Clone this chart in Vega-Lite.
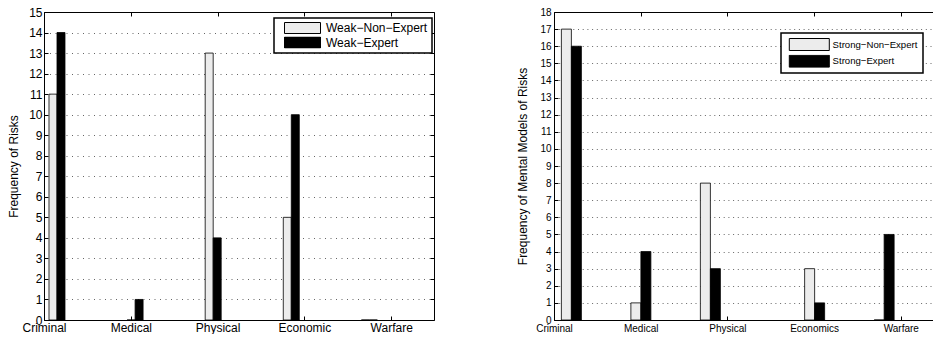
{
  "$schema": "https://vega.github.io/schema/vega-lite/v6.json",
  "padding": {"left": 7, "top": 5, "right": 0, "bottom": 0},
  "bounds": "flush",
  "spacing": 120,
  "resolve": {"scale": {"color": "independent"}, "legend": {"color": "independent"}},
  "datasets": {
    "weak": [
      {"category": "Criminal", "group": "Weak−Non−Expert", "value": 11},
      {"category": "Criminal", "group": "Weak−Expert", "value": 14},
      {"category": "Medical", "group": "Weak−Non−Expert", "value": 0},
      {"category": "Medical", "group": "Weak−Expert", "value": 1},
      {"category": "Physical", "group": "Weak−Non−Expert", "value": 13},
      {"category": "Physical", "group": "Weak−Expert", "value": 4},
      {"category": "Economic", "group": "Weak−Non−Expert", "value": 5},
      {"category": "Economic", "group": "Weak−Expert", "value": 10},
      {"category": "Warfare", "group": "Weak−Non−Expert", "value": 0},
      {"category": "Warfare", "group": "Weak−Expert", "value": 0}
    ],
    "strong": [
      {"category": "Criminal", "group": "Strong−Non−Expert", "value": 17},
      {"category": "Criminal", "group": "Strong−Expert", "value": 16},
      {"category": "Medical", "group": "Strong−Non−Expert", "value": 1},
      {"category": "Medical", "group": "Strong−Expert", "value": 4},
      {"category": "Physical", "group": "Strong−Non−Expert", "value": 8},
      {"category": "Physical", "group": "Strong−Expert", "value": 3},
      {"category": "Economics", "group": "Strong−Non−Expert", "value": 3},
      {"category": "Economics", "group": "Strong−Expert", "value": 1},
      {"category": "Warfare", "group": "Strong−Non−Expert", "value": 0},
      {"category": "Warfare", "group": "Strong−Expert", "value": 5}
    ]
  },
  "hconcat": [
    {
      "data": {"name": "weak"},
      "width": 390,
      "height": 308,
      "resolve": {"scale": {"x": "independent"}, "axis": {"y": "independent"}},
      "layer": [
        {
          "transform": [{"filter": "datum.group === 'Weak−Non−Expert'"}],
          "mark": {"type": "bar", "stroke": "#000", "strokeWidth": 0.8, "width": 8, "xOffset": -4},
          "encoding": {
            "x": {"field": "category", "type": "nominal",
              "scale": {"type": "band", "domain": ["Criminal", "Medical", "Physical", "Economic", "Warfare"], "paddingInner": 0.7951, "paddingOuter": 0.3944, "align": 0.081, "round": false},
              "axis": null},
            "y": {"field": "value", "type": "quantitative",
              "scale": {"domain": [0, 15], "nice": false},
              "axis": {"title": "Frequency of Risks", "values": [0,1,2,3,4,5,6,7,8,9,10,11,12,13,14,15],
                "grid": true, "gridDash": [1, 4.5], "gridColor": "#000", "gridOpacity": 0.6,
                "tickSize": -4, "labelPadding": 6, "domain": false, "labelFontSize": 12,
                "titleFontSize": 12, "titleX": -26.5, "titleBaseline": "alphabetic", "labelOverlap": false}},
            "color": {"field": "group", "type": "nominal",
              "scale": {"domain": ["Weak−Non−Expert", "Weak−Expert"], "range": ["#ececec", "#000000"]},
              "legend": {"title": null, "orient": "none", "legendX": 230, "legendY": 6,
                "symbolType": "M-4.5,-1.375H4.5V1.375H-4.5Z", "symbolSize": 64,
                "symbolStrokeColor": "#000", "symbolStrokeWidth": 1,
                "symbolOffset": 18.5, "labelOffset": 17.5, "rowPadding": 2.5, "clipHeight": 12,
                "labelFontSize": 12, "padding": 4}}
          }
        },
        {
          "transform": [{"filter": "datum.group === 'Weak−Expert'"}],
          "mark": {"type": "bar", "stroke": "#000", "strokeWidth": 0.8, "width": 8, "xOffset": 4},
          "encoding": {
            "x": {"field": "category", "type": "nominal",
              "scale": {"type": "band", "domain": ["Criminal", "Medical", "Physical", "Economic", "Warfare"], "paddingInner": 0.7951, "paddingOuter": 0.3944, "align": 0.081, "round": false},
              "axis": null},
            "y": {"field": "value", "type": "quantitative",
              "scale": {"domain": [0, 15], "nice": false}, "axis": null},
            "color": {"field": "group", "type": "nominal",
              "scale": {"domain": ["Weak−Non−Expert", "Weak−Expert"], "range": ["#ececec", "#000000"]},
              "legend": {"title": null, "orient": "none", "legendX": 230, "legendY": 6,
                "symbolType": "M-4.5,-1.375H4.5V1.375H-4.5Z", "symbolSize": 64,
                "symbolStrokeColor": "#000", "symbolStrokeWidth": 1,
                "symbolOffset": 18.5, "labelOffset": 17.5, "rowPadding": 2.5, "clipHeight": 12,
                "labelFontSize": 12, "padding": 4}}
          }
        },
        {
          "mark": {"type": "point", "opacity": 0},
          "encoding": {
            "x": {"field": "category", "type": "nominal",
              "scale": {"type": "point", "domain": ["Criminal", "Medical", "Physical", "Economic", "Warfare"], "padding": 0.2465, "align": 0},
              "axis": {"orient": "bottom", "title": null, "labelAngle": 0, "tickSize": -4, "labelPadding": 6,
                "domain": false, "labelFontSize": 12, "labelOverlap": false}}
          }
        },
        {
          "mark": {"type": "point", "opacity": 0},
          "encoding": {
            "x": {"field": "category", "type": "nominal",
              "scale": {"type": "point", "domain": ["Criminal", "Medical", "Physical", "Economic", "Warfare"], "padding": 0.2465, "align": 0},
              "axis": {"orient": "top", "title": null, "labels": false, "tickSize": -4, "domain": false}},
            "y": {"field": "value", "type": "quantitative",
              "scale": {"domain": [0, 15], "nice": false},
              "axis": {"orient": "right", "title": null, "labels": false, "grid": false, "tickSize": -4, "domain": false,
                "values": [0,1,2,3,4,5,6,7,8,9,10,11,12,13,14,15]}}
          }
        }
      ]
    },
    {
      "data": {"name": "strong"},
      "width": 380,
      "height": 308,
      "view": {"stroke": null},
      "resolve": {"scale": {"x": "independent"}, "axis": {"y": "independent"}},
      "layer": [
        {
          "transform": [{"filter": "datum.group === 'Strong−Non−Expert'"}],
          "mark": {"type": "bar", "stroke": "#000", "strokeWidth": 0.8, "width": 10, "xOffset": -5},
          "encoding": {
            "x": {"field": "category", "type": "nominal",
              "scale": {"type": "band", "domain": ["Criminal", "_1", "Medical", "_2", "Physical", "_3", "_4", "Economics", "_5", "Warfare"], "paddingInner": 0.4245, "paddingOuter": 0.680, "align": 0.1563, "round": false},
              "axis": null},
            "y": {"field": "value", "type": "quantitative",
              "scale": {"domain": [0, 18], "nice": false},
              "axis": {"title": "Frequency of Mental Models of Risks", "values": [0,1,2,3,4,5,6,7,8,9,10,11,12,13,14,15,16,17,18],
                "grid": true, "gridDash": [1, 3.7], "gridColor": "#000", "gridOpacity": 0.6,
                "tickSize": -4, "labelPadding": 7, "domain": true, "labelFontSize": 10,
                "titleFontSize": 12, "titleX": -27.7, "titleBaseline": "alphabetic", "labelOverlap": false}},
            "color": {"field": "group", "type": "nominal",
              "scale": {"domain": ["Strong−Non−Expert", "Strong−Expert"], "range": ["#ececec", "#000000"]},
              "legend": {"title": null, "orient": "none", "legendX": 227, "legendY": 21,
                "symbolType": "M-5,-1.5H5V1.5H-5Z", "symbolSize": 64,
                "symbolStrokeColor": "#000", "symbolStrokeWidth": 1,
                "symbolOffset": 18.5, "labelOffset": 18.5, "rowPadding": 3.7, "clipHeight": 13,
                "labelFontSize": 9.6, "padding": 5}}
          }
        },
        {
          "transform": [{"filter": "datum.group === 'Strong−Expert'"}],
          "mark": {"type": "bar", "stroke": "#000", "strokeWidth": 0.8, "width": 10, "xOffset": 5},
          "encoding": {
            "x": {"field": "category", "type": "nominal",
              "scale": {"type": "band", "domain": ["Criminal", "_1", "Medical", "_2", "Physical", "_3", "_4", "Economics", "_5", "Warfare"], "paddingInner": 0.4245, "paddingOuter": 0.680, "align": 0.1563, "round": false},
              "axis": null},
            "y": {"field": "value", "type": "quantitative",
              "scale": {"domain": [0, 18], "nice": false}, "axis": null},
            "color": {"field": "group", "type": "nominal",
              "scale": {"domain": ["Strong−Non−Expert", "Strong−Expert"], "range": ["#ececec", "#000000"]},
              "legend": {"title": null, "orient": "none", "legendX": 227, "legendY": 21,
                "symbolType": "M-5,-1.5H5V1.5H-5Z", "symbolSize": 64,
                "symbolStrokeColor": "#000", "symbolStrokeWidth": 1,
                "symbolOffset": 18.5, "labelOffset": 18.5, "rowPadding": 3.7, "clipHeight": 13,
                "labelFontSize": 9.6, "padding": 5}}
          }
        },
        {
          "mark": {"type": "point", "opacity": 0},
          "encoding": {
            "x": {"field": "category", "type": "nominal",
              "scale": {"type": "point", "domain": ["Criminal", "Medical", "Physical", "Economics", "Warfare"], "padding": 0.1915, "align": 0},
              "axis": {"orient": "bottom", "title": null, "labelAngle": 0, "tickSize": -4, "labelPadding": 7,
                "domain": true, "labelFontSize": 10, "labelOverlap": false}}
          }
        },
        {
          "mark": {"type": "point", "opacity": 0},
          "encoding": {
            "x": {"field": "category", "type": "nominal",
              "scale": {"type": "point", "domain": ["Criminal", "Medical", "Physical", "Economics", "Warfare"], "padding": 0.1915, "align": 0},
              "axis": {"orient": "top", "title": null, "labels": false, "tickSize": -4, "domain": true}}
          }
        }
      ]
    }
  ],
  "config": {
    "font": "Liberation Sans",
    "view": {"stroke": "#000", "strokeWidth": 1},
    "axis": {"labelColor": "#000", "tickColor": "#000", "domainColor": "#000", "titleColor": "#000",
      "titleFontWeight": "normal", "tickWidth": 1, "domainWidth": 1},
    "legend": {"labelColor": "#000", "fillColor": "#fff", "strokeColor": "#000", "strokeWidth": 1.5, "labelFont": "Liberation Sans"}
  }
}
